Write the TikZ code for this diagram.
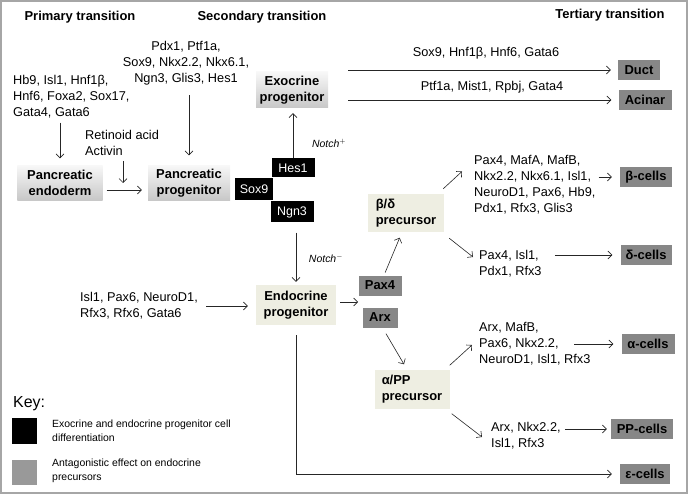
\documentclass[tikz,border=0pt]{standalone}
\usepackage{fontspec}
\setmainfont{Liberation Sans}
\usetikzlibrary{arrows.meta}
\definecolor{precolor}{RGB}{238,238,226}
\definecolor{tfcolor}{RGB}{135,135,135}
\definecolor{keygrey}{RGB}{153,153,153}

\begin{document}
\begin{tikzpicture}[
    x=1bp, y=-1bp,
    header/.style={font=\fontsize{13}{16}\selectfont\bfseries, inner sep=0pt},
    genes/.style={font=\fontsize{12.8}{16}\selectfont, inner sep=0pt, align=left},
    gradbox/.style={top color=black!3, bottom color=black!22, inner sep=0pt, align=center,
        font=\fontsize{13}{16}\selectfont\bfseries, minimum height=35bp},
    blackbox/.style={fill=black, text=white, inner sep=0pt, font=\fontsize{12.5}{15}\selectfont},
    prebox/.style={fill=precolor, inner sep=0pt, align=center, font=\fontsize{13}{16}\selectfont\bfseries},
    greybox/.style={fill=tfcolor, inner sep=0pt, minimum height=20bp, font=\fontsize{13}{16}\selectfont\bfseries},
    notch/.style={font=\fontsize{10.5}{12}\selectfont\itshape, inner sep=0pt},
    keytext/.style={font=\fontsize{10.5}{14}\selectfont, inner sep=0pt, align=left, anchor=west},
    arr/.style={-{Straight Barb[length=4bp,width=8bp]}, line width=0.6bp, black!85}
]
    \useasboundingbox (0,0) rectangle (688,494);
    \draw[black!35, line width=2bp] (1,1) rectangle (687,493);

    % Headers
    \node[header] (h1) at (80,17) {Primary transition};
    \node[header] (h2) at (262,17) {Secondary transition};
    \node[header] (h3) at (610,15) {Tertiary transition};

    % Progenitors
    \node[gradbox, minimum width=85bp] (endo) at (60,183) {Pancreatic\\endoderm};
    \node[gradbox, minimum width=82bp] (panprog) at (189,183) {Pancreatic\\progenitor};
    \node[gradbox, minimum width=72bp, minimum height=36bp] (exo) at (292,90) {Exocrine\\progenitor};

    % Sox9 / Hes1 / Ngn3
    \node[blackbox, minimum width=43bp, minimum height=19bp] (hes1) at (293,168) {Hes1};
    \node[blackbox, minimum width=38bp, minimum height=22bp] (sox9) at (254,189) {Sox9};
    \node[blackbox, minimum width=43bp, minimum height=21bp] (ngn3) at (292,212) {Ngn3};

    % Precursors
    \node[prebox, minimum width=80bp, minimum height=40bp] (endoc) at (296,305) {Endocrine\\progenitor};
    \node[prebox, align=left, minimum width=76bp, minimum height=38bp] (bd) at (406,213) {β/δ\\precursor};
    \node[prebox, align=left, minimum width=75bp, minimum height=39bp] (app) at (412,389) {α/PP\\precursor};
    \node[greybox, minimum width=43bp] (pax4) at (380,285.5) {Pax4};
    \node[greybox, minimum width=35bp] (arx) at (380,317.5) {Arx};

    % Mature cells
    \foreach \n/\t/\x/\y/\w in {duct/Duct/639/70/42, acinar/Acinar/645/100/53,
        beta/β-cells/646/177/52, delta/δ-cells/646/255/51, alpha/α-cells/648/344/53,
        pp/PP-cells/642/429/62, eps/ε-cells/645/474/50} {
        \node[greybox, minimum width=\w bp] (\n) at (\x,\y) {\t};
    }

    % Transcription factors
    \node[genes, anchor=west] (g1) at (13,97) {Hb9, Isl1, Hnf1β,\\Hnf6, Foxa2, Sox17,\\Gata4, Gata6};
    \node[genes, anchor=west] (ra) at (85,143) {Retinoid acid\\Activin};
    \node[genes, align=center] (g2) at (186,63) {Pdx1, Ptf1a,\\Sox9, Nkx2.2, Nkx6.1,\\Ngn3, Glis3, Hes1};
    \node[genes, anchor=west] (g3) at (80,306) {Isl1, Pax6, NeuroD1,\\Rfx3, Rfx6, Gata6};
    \node[genes] (gduct) at (486,53) {Sox9, Hnf1β, Hnf6, Gata6};
    \node[genes] (gacinar) at (492,87) {Ptf1a, Mist1, Rpbj, Gata4};
    \node[genes, anchor=west] (gbeta) at (474,185) {Pax4, MafA, MafB,\\Nkx2.2, Nkx6.1, Isl1,\\NeuroD1, Pax6, Hb9,\\Pdx1, Rfx3, Glis3};
    \node[genes, anchor=west] (gdelta) at (479,264) {Pax4, Isl1,\\Pdx1, Rfx3};
    \node[genes, anchor=west] (galpha) at (479,344) {Arx, MafB,\\Pax6, Nkx2.2,\\NeuroD1, Isl1, Rfx3};
    \node[genes, anchor=west] (gpp) at (491,436) {Arx, Nkx2.2,\\Isl1, Rfx3};

    \node[notch] (nplus) at (329,143) {Notch$^{+}$};
    \node[notch] (nminus) at (326,258) {Notch$^{-}$};

    % Primary / secondary arrows
    \draw[arr, shorten <=4bp, shorten >=7bp] (g1.south -| endo.north) -- (endo.north);
    \coordinate (rajoin) at (123,183);
    \draw[arr, shorten <=5bp] (ra.south -| rajoin) -- (rajoin);
    \draw[arr, shorten <=4bp, shorten >=6bp] ([shift={(0,7)}]endo.east) -- ([shift={(0,7)}]panprog.west);
    \draw[arr, shorten <=10bp, shorten >=10bp] (g2.south -| panprog.north) -- (panprog.north);
    \draw[arr, shorten >=5bp] (hes1.north) -- (hes1.north |- exo.south);
    \draw[arr, shorten <=10bp, shorten >=3bp] (endoc.north |- ngn3.south) -- (endoc.north);
    \draw[arr, shorten <=8bp, shorten >=8bp] (g3.east) -- (g3.east -| endoc.west);

    % Exocrine
    \coordinate (exoout) at ([shift={(20,0)}]exo.east);
    \draw[arr, shorten >=7bp] (exoout |- duct.west) -- (duct.west);
    \draw[arr, shorten >=7bp] (exoout |- acinar.west) -- (acinar.west);

    % Endocrine
    \coordinate (split) at (358,302);
    \draw[arr, shorten <=4bp] (endoc.east |- split) -- (split);
    \draw[arr, shorten <=3bp, shorten >=6bp] ([shift={(4,0)}]pax4.north) -- ([shift={(-4,0)}]bd.south);
    \draw[arr] ([shift={(6,6)}]arx.south) -- ([shift={(-8,-5)}]app.north);
    \draw[arr] ([shift={(-1,-5)}]bd.north east) -- ([shift={(-12,16)}]gbeta.north west);
    \draw[arr] ([shift={(5,6)}]bd.south east) -- ([shift={(-6,-7)}]gdelta.west);
    \draw[arr] ([shift={(0,-4)}]app.north east) -- ([shift={(-7,1)}]galpha.west);
    \draw[arr] ([shift={(2,5)}]app.south east) -- ([shift={(-9,1)}]gpp.west);
    \draw[arr, shorten <=3bp, shorten >=8bp] (gbeta.east |- beta.west) -- (beta.west);
    \draw[arr, shorten <=13bp, shorten >=8bp] (gdelta.east |- delta.west) -- (delta.west);
    \draw[arr, shorten >=8bp] ([shift={(95,0)}]galpha.west) -- (alpha.west);
    \draw[arr, shorten <=4bp, shorten >=4bp] (gpp.east |- pp.west) -- (pp.west);
    \draw[arr, shorten <=10bp, shorten >=8bp] (endoc.south) |- (eps.west);

    % Key
    \node[font=\fontsize{16}{18}\selectfont, anchor=west, inner sep=0pt] (key) at (13,404) {Key:};
    \node[fill=black, minimum width=25bp, minimum height=26bp, inner sep=0pt] (k1) at (24.5,431) {};
    \node[keytext] (k1t) at (52,431) {Exocrine and endocrine progenitor cell\\differentiation};
    \node[fill=keygrey, minimum width=25bp, minimum height=25bp, inner sep=0pt] (k2) at (24.5,472.5) {};
    \node[keytext] (k2t) at (52,471) {Antagonistic effect on endocrine\\precursors};
\end{tikzpicture}
\end{document}
